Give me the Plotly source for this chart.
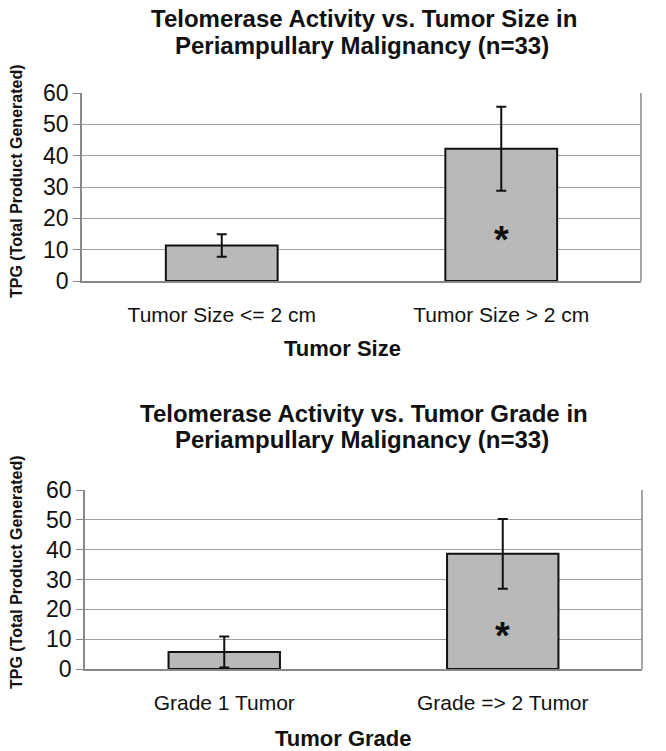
import plotly.graph_objects as go

size_categories = ["Tumor Size <= 2 cm", "Tumor Size > 2 cm"]
size_values = [11.3, 42.2]
size_errors = [3.6, 13.4]
size_star_y = 13

grade_categories = ["Grade 1 Tumor", "Grade => 2 Tumor"]
grade_values = [5.7, 38.6]
grade_errors = [5.2, 11.7]
grade_star_y = 11

y_ticks = [0, 10, 20, 30, 40, 50, 60]

FONT = "Liberation Sans, Arial, sans-serif"
BAR_FILL = "#b9b9b9"

# the page body's default margin is removed by post_script, so figure fills the window
W, H = 666, 751


def px(x):
    return x / W


def py(y):
    return 1 - y / H


fig = go.Figure()

fig.add_trace(go.Bar(
    x=size_categories, y=size_values, xaxis="x", yaxis="y",
    marker=dict(color=BAR_FILL, line=dict(color="#111111", width=2)),
    width=0.4,
    error_y=dict(type="data", array=size_errors, color="#111111", thickness=2, width=5),
    showlegend=False,
))
fig.add_trace(go.Bar(
    x=grade_categories, y=grade_values, xaxis="x2", yaxis="y2",
    marker=dict(color=BAR_FILL, line=dict(color="#111111", width=2)),
    width=0.4,
    error_y=dict(type="data", array=grade_errors, color="#111111", thickness=2, width=5),
    showlegend=False,
))

axis_common_x = dict(
    showgrid=False, showline=True, linecolor="#888888", linewidth=1.5,
    ticks="", tickfont=dict(family=FONT, size=21, color="#111111"),
    mirror=False, automargin=False, ticklabelstandoff=14,
)
axis_common_y = dict(
    range=[0, 60], tickvals=y_ticks, showgrid=True, gridcolor="#a0a0a0", gridwidth=1,
    showline=True, linecolor="#888888", linewidth=1.5, ticks="outside",
    ticklen=7, tickcolor="#888888",
    tickfont=dict(family=FONT, size=23, color="#111111"), zeroline=False,
    automargin=False,
)

fig.update_layout(
    template="none",
    width=W, height=H,
    margin=dict(l=0, r=0, t=0, b=0, autoexpand=False),
    paper_bgcolor="white", plot_bgcolor="white",
    xaxis=dict(domain=[px(82), px(641)], anchor="y", **axis_common_x),
    yaxis=dict(domain=[py(281), py(93)], anchor="x", **axis_common_y),
    xaxis2=dict(domain=[px(85), px(642)], anchor="y2", **axis_common_x),
    yaxis2=dict(domain=[py(669), py(490)], anchor="x2", **axis_common_y),
    shapes=[
        dict(type="line", xref="x domain", yref="y domain", x0=1, x1=1, y0=0, y1=1,
             line=dict(color="#888888", width=1.5)),
        dict(type="line", xref="x2 domain", yref="y2 domain", x0=1, x1=1, y0=0, y1=1,
             line=dict(color="#888888", width=1.5)),
    ],
)


def text_ann(text, x, y, size, angle=0):
    return dict(text=text, xref="paper", yref="paper", x=px(x), y=py(y),
                xanchor="center", yanchor="middle", showarrow=False, textangle=angle,
                font=dict(family=FONT, size=size, color="#111111"))


ann = [
    text_ann("<b>Telomerase Activity vs. Tumor Size in</b>", 364, 19, 24),
    text_ann("<b>Periampullary Malignancy (n=33)</b>", 362, 45, 24),
    text_ann("<b>Telomerase Activity vs. Tumor Grade in</b>", 364, 413, 24),
    text_ann("<b>Periampullary Malignancy (n=33)</b>", 362, 440, 24),
    text_ann("<b>Tumor Size</b>", 342, 348, 22),
    text_ann("<b>Tumor Grade</b>", 343, 738, 22),
    text_ann("<b>TPG (Total Product Generated)</b>", 16, 181, 16, -90),
    text_ann("<b>TPG (Total Product Generated)</b>", 16, 572, 16, -90),
]
# Asterisks
ann.append(dict(text="<b>*</b>", xref="x", yref="y", x=size_categories[1], y=size_star_y,
                showarrow=False, yanchor="middle", font=dict(family=FONT, size=38, color="#111111")))
ann.append(dict(text="<b>*</b>", xref="x2", yref="y2", x=grade_categories[1], y=grade_star_y,
                showarrow=False, yanchor="middle", font=dict(family=FONT, size=38, color="#111111")))

fig.update_layout(annotations=ann)

fig.write_html(
    "out.html",
    config={"displayModeBar": False},
    post_script="document.body.style.margin='0px';document.body.style.overflow='hidden';",
)
